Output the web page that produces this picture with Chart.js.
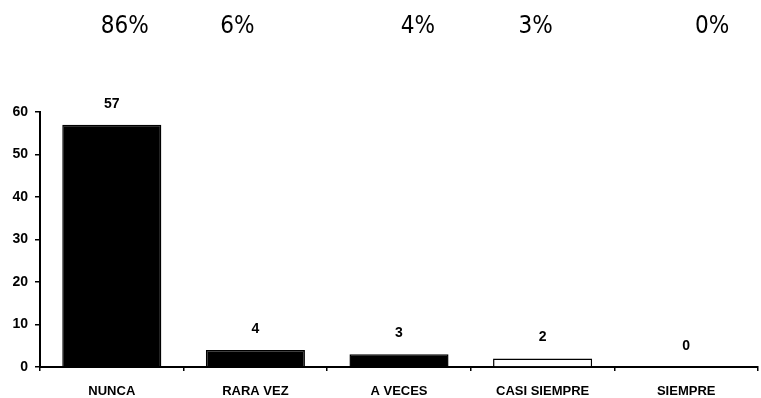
<!DOCTYPE html>
<html>
<head>
<meta charset="utf-8">
<script src="https://cdn.jsdelivr.net/npm/chart.js@4"></script>
<style>
  html, body { margin: 0; padding: 0; background: #fff; }
  #wrap { width: 761px; height: 398px; }
</style>
</head>
<body>
<div id="wrap"><canvas id="chart" width="761" height="398"></canvas></div>
<script>
// chart data
const categories = ['NUNCA', 'RARA VEZ', 'A VECES', 'CASI SIEMPRE', 'SIEMPRE'];
const counts = [57, 4, 3, 2, 0];
const percents = ['86%', '6%', '4%', '3%', '0%'];
const barColors = ['#000', '#000', '#000', '#fff', '#000'];
const yTicks = [0, 10, 20, 30, 40, 50, 60];

// the percentage row is not centred on the bars in the original, nudge each one
const percentShift = [13, -18, 19, -7, 26];

// draws the count above each bar and the percentage row at the top
const labelPlugin = {
    id: 'labels',
    afterDatasetsDraw(chart) {
        const ctx = chart.ctx;
        const meta = chart.getDatasetMeta(0);
        ctx.save();
        ctx.fillStyle = '#000';
        ctx.textAlign = 'center';
        ctx.textBaseline = 'middle';
        meta.data.forEach((bar, i) => {
            ctx.font = 'bold 14px "Liberation Sans", Arial, sans-serif';
            ctx.fillText(String(counts[i]), bar.x, bar.y - 21);
            ctx.font = '24px "Liberation Sans Narrow", "DejaVu Sans Condensed", sans-serif';
            ctx.fillText(percents[i], bar.x + percentShift[i], 27);
        });
        ctx.restore();
    }
};

const ctx = document.getElementById('chart').getContext('2d');
new Chart(ctx, {
    type: 'bar',
    data: {
        labels: categories,
        datasets: [{
            data: counts,
            backgroundColor: barColors,
            borderColor: '#000',
            borderWidth: 1.5,
            barPercentage: 0.69,
            categoryPercentage: 1.0
        }]
    },
    options: {
        responsive: false,
        animation: false,
        layout: { padding: { top: 112, right: 3, left: 0, bottom: 0 } },
        plugins: { legend: { display: false }, tooltip: { enabled: false } },
        scales: {
            x: {
                grid: { display: true, drawOnChartArea: false, offset: true, color: '#000', tickLength: 4, lineWidth: 1.5 },
                border: { color: '#000', width: 2 },
                ticks: { color: '#000', padding: 13, font: { family: '"Liberation Sans", Arial, sans-serif', size: 13, weight: 'bold' } },
                afterFit(scale) { scale.height = 31; }
            },
            y: {
                min: 0,
                max: 60,
                afterBuildTicks(scale) { scale.ticks = yTicks.map(v => ({ value: v })); },
                grid: { display: true, drawOnChartArea: false, color: '#000', tickLength: 5, lineWidth: 1.5 },
                border: { color: '#000', width: 2 },
                ticks: { color: '#000', padding: 7, font: { family: '"Liberation Sans", Arial, sans-serif', size: 14, weight: 'bold' } },
                afterFit(scale) { scale.width = 40; }
            }
        }
    },
    plugins: [labelPlugin]
});
</script>
</body>
</html>
